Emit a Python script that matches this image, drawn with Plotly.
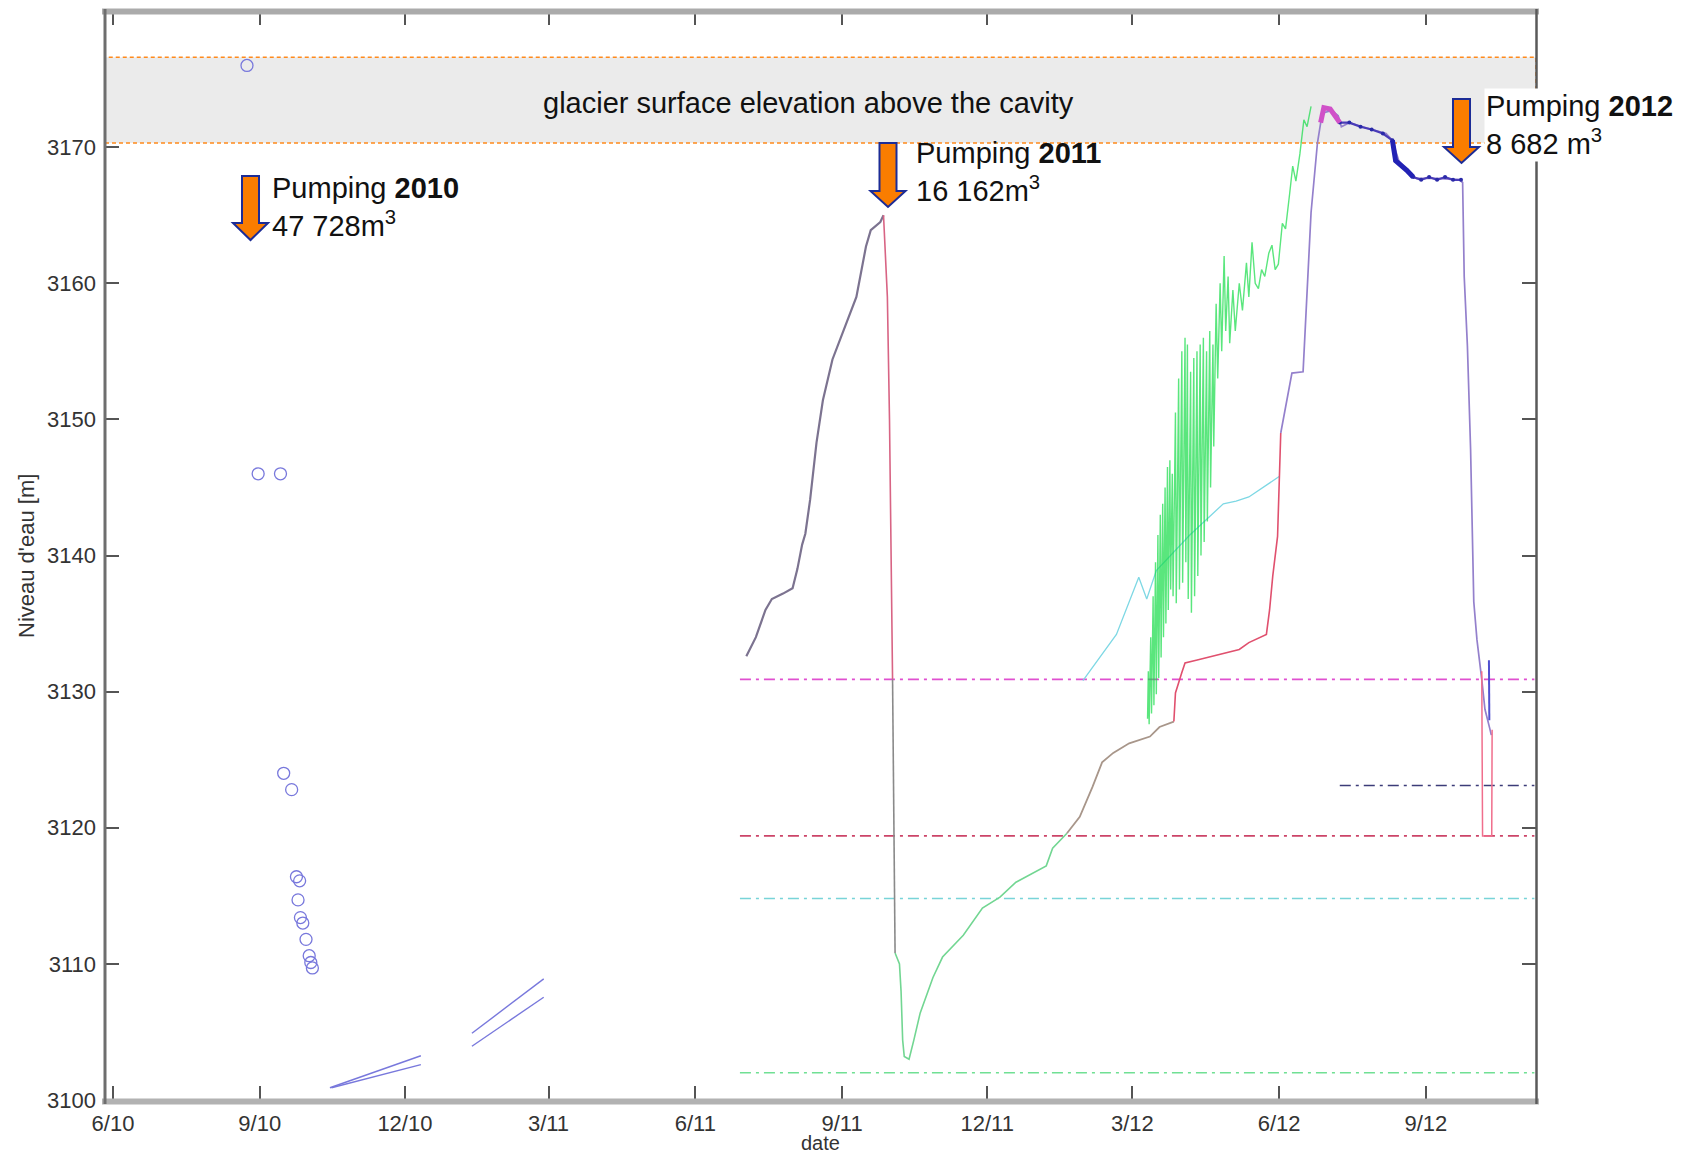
import plotly.graph_objects as go

# ---------------- data ----------------
# 2010 manual soundings (open circles)
sound_2010_dates = ["2010-08-24", "2010-08-31", "2010-09-14", "2010-09-16", "2010-09-21",
                    "2010-09-24", "2010-09-26", "2010-09-25", "2010-09-26 12:00", "2010-09-28",
                    "2010-09-30", "2010-10-02", "2010-10-03", "2010-10-04"]
sound_2010_levels = [3176.0, 3146.0, 3146.0, 3124.0, 3122.8,
                     3116.4, 3116.1, 3114.7, 3113.4, 3113.0,
                     3111.8, 3110.6, 3110.1, 3109.7]

# 2010-2011 probe records (short straight pieces)
probe_a_dates = ["2010-10-15", "2010-12-11"]
probe_a_levels = [3100.9, 3103.25]
probe_b_dates = ["2010-10-16", "2010-12-11"]
probe_b_levels = [3100.9, 3102.6]
probe_c_dates = ["2011-01-12", "2011-02-26"]
probe_c_levels = [3104.9, 3108.9]
probe_d_dates = ["2011-01-12", "2011-02-26"]
probe_d_levels = [3103.95, 3107.55]

# sensor reference levels (dash-dot)
ref_levels = [3130.9, 3119.4, 3114.8, 3102.0]
ref_colors = ["#e050d0", "#cc4468", "#78d4d8", "#70e094"]
ref_start = "2011-06-29"
ref_end = "2012-11-08"
navy_level = 3123.1
navy_start = "2012-07-09"

# 2011 filling
rise_2011_dates = ["2011-07-03", "2011-07-09", "2011-07-15", "2011-07-19", "2011-07-26",
                   "2011-08-01", "2011-08-04", "2011-08-07", "2011-08-09", "2011-08-12",
                   "2011-08-16", "2011-08-20", "2011-08-26", "2011-09-02", "2011-09-10",
                   "2011-09-16", "2011-09-19", "2011-09-25", "2011-09-27"]
rise_2011_levels = [3132.6, 3134.0, 3136.0, 3136.8, 3137.2,
                    3137.6, 3139.0, 3140.8, 3141.6, 3144.1,
                    3148.3, 3151.4, 3154.4, 3156.6, 3159.0,
                    3162.7, 3163.9, 3164.5, 3165.0]

# 2011 pumping drawdown
drop_2011_dates = ["2011-09-27", "2011-09-29 10:00", "2011-09-30 18:00", "2011-10-01 18:00", "2011-10-02 16:00"]
drop_2011_levels = [3165.0, 3159.0, 3150.0, 3140.4, 3130.9]
drop_low_dates = ["2011-10-02 16:00", "2011-10-04 06:00"]
drop_low_levels = [3130.9, 3110.8]

# refilling after 2011 pumping
refill_dates = ["2011-10-04 06:00", "2011-10-07", "2011-10-08", "2011-10-09", "2011-10-10",
                "2011-10-13", "2011-10-16", "2011-10-20", "2011-10-28", "2011-11-03",
                "2011-11-16", "2011-11-28", "2011-12-09", "2011-12-19", "2012-01-07",
                "2012-01-11", "2012-01-20"]
refill_levels = [3110.8, 3110.0, 3108.0, 3104.4, 3103.2,
                 3103.0, 3104.4, 3106.4, 3109.0, 3110.5,
                 3112.1, 3114.1, 3114.9, 3116.0, 3117.2,
                 3118.5, 3119.6]
winter_dates = ["2012-01-20", "2012-01-28", "2012-02-05", "2012-02-11", "2012-02-18",
                "2012-02-28", "2012-03-12", "2012-03-18", "2012-03-27"]
winter_levels = [3119.6, 3120.8, 3123.0, 3124.8, 3125.5,
                 3126.2, 3126.7, 3127.4, 3127.8]

# 2012 spring rise
spring_dates = ["2012-03-27", "2012-03-28", "2012-04-01", "2012-04-03", "2012-04-10",
                "2012-04-27", "2012-05-07", "2012-05-13", "2012-05-24", "2012-05-26",
                "2012-05-28", "2012-05-31", "2012-06-01", "2012-06-02"]
spring_levels = [3127.8, 3129.9, 3131.4, 3132.1, 3132.3,
                 3132.8, 3133.1, 3133.6, 3134.2, 3136.0,
                 3138.5, 3141.4, 3145.3, 3149.0]

# 2012 summer high stand and pumping drawdown
summer_dates = ["2012-06-02", "2012-06-09", "2012-06-16", "2012-06-18", "2012-06-21",
                "2012-06-25", "2012-06-28", "2012-07-04", "2012-07-08", "2012-07-10",
                "2012-07-15", "2012-07-26", "2012-08-07", "2012-08-11", "2012-08-15",
                "2012-08-20", "2012-08-26", "2012-09-08", "2012-09-22", "2012-09-24",
                "2012-09-25", "2012-09-27", "2012-09-29", "2012-10-01", "2012-10-03",
                "2012-10-06", "2012-10-08", "2012-10-11", "2012-10-12"]
summer_levels = [3149.0, 3153.4, 3153.5, 3157.8, 3165.2,
                 3170.3, 3172.5, 3172.7, 3172.3, 3171.5,
                 3171.8, 3171.4, 3171.0, 3170.5, 3169.0,
                 3168.3, 3167.7, 3167.7, 3167.6, 3167.4,
                 3160.5, 3155.4, 3147.8, 3136.6, 3133.8,
                 3130.9, 3128.7, 3127.3, 3126.8]
peak_dates = ["2012-06-27", "2012-06-29", "2012-07-03", "2012-07-07", "2012-07-09"]
peak_levels = [3171.8, 3172.9, 3172.8, 3172.2, 3171.8]
recess_dates = ["2012-07-09", "2012-07-15", "2012-07-22", "2012-07-29", "2012-08-05",
                "2012-08-11", "2012-08-13", "2012-08-20", "2012-08-24", "2012-08-29",
                "2012-09-03", "2012-09-08", "2012-09-13", "2012-09-18", "2012-09-23"]
recess_levels = [3171.8, 3171.8, 3171.5, 3171.3, 3171.0,
                 3170.5, 3169.0, 3168.3, 3167.8, 3167.6,
                 3167.8, 3167.6, 3167.8, 3167.6, 3167.6]
slump_dates = ["2012-08-11", "2012-08-13", "2012-08-20", "2012-08-24"]
slump_levels = [3170.5, 3169.0, 3168.3, 3167.8]
tail_red_dates = ["2012-10-06 00:00", "2012-10-06 12:00", "2012-10-12 06:00", "2012-10-12 12:00"]
tail_red_levels = [3131.5, 3119.4, 3119.4, 3127.2]
tail_blue_dates = ["2012-10-10 12:00", "2012-10-10 18:00"]
tail_blue_levels = [3132.3, 3127.9]

# second sensor, 2012
cyan_dates = ["2012-01-30", "2012-02-20", "2012-03-05", "2012-03-10", "2012-03-16",
              "2012-04-06", "2012-04-27", "2012-05-05", "2012-05-13", "2012-06-01"]
cyan_levels = [3130.8, 3134.2, 3138.4, 3136.8, 3138.9,
               3141.5, 3143.8, 3144.0, 3144.3, 3145.8]

# third sensor, 2012 (strongly oscillating record)
osc_dates = ["2012-03-10 12:00", "2012-03-11 00:00", "2012-03-11 12:00", "2012-03-12 12:00", "2012-03-13 00:00",
             "2012-03-14 00:00", "2012-03-14 12:00", "2012-03-15 12:00", "2012-03-16 00:00", "2012-03-17 00:00",
             "2012-03-17 12:00", "2012-03-18 12:00", "2012-03-19 00:00", "2012-03-20 00:00", "2012-03-20 12:00",
             "2012-03-21 12:00", "2012-03-22 00:00", "2012-03-23 00:00", "2012-03-23 12:00", "2012-03-24 12:00",
             "2012-03-25 00:00", "2012-03-26 00:00", "2012-03-26 12:00", "2012-03-28 00:00", "2012-03-28 12:00",
             "2012-03-30 00:00", "2012-03-30 12:00", "2012-04-01 00:00", "2012-04-01 12:00", "2012-04-03 00:00",
             "2012-04-03 12:00", "2012-04-04 12:00", "2012-04-05 00:00", "2012-04-06 12:00", "2012-04-07 00:00",
             "2012-04-08 12:00", "2012-04-09 00:00", "2012-04-10 12:00", "2012-04-11 00:00", "2012-04-12 12:00",
             "2012-04-13 00:00", "2012-04-14 12:00", "2012-04-15 00:00", "2012-04-16 12:00", "2012-04-17 00:00",
             "2012-04-18 12:00", "2012-04-19 00:00", "2012-04-20 12:00", "2012-04-21 00:00", "2012-04-22 12:00",
             "2012-04-23 12:00", "2012-04-25 00:00", "2012-04-26 00:00", "2012-04-27 12:00", "2012-04-28 12:00",
             "2012-04-30 00:00", "2012-05-01 00:00", "2012-05-03 00:00", "2012-05-04 12:00", "2012-05-07 00:00",
             "2012-05-09 00:00", "2012-05-11 12:00", "2012-05-13 00:00", "2012-05-15 00:00", "2012-05-17 00:00",
             "2012-05-19 00:00", "2012-05-21 00:00", "2012-05-23 00:00", "2012-05-25 12:00", "2012-05-27 12:00",
             "2012-05-29 12:00", "2012-05-31 12:00", "2012-06-03 00:00", "2012-06-05 00:00", "2012-06-07 12:00",
             "2012-06-09 12:00", "2012-06-11 12:00", "2012-06-14 00:00", "2012-06-16 12:00", "2012-06-18 12:00",
             "2012-06-21 00:00"]
osc_levels = [3128.0, 3131.5, 3127.6, 3134.0, 3128.4,
              3137.0, 3129.0, 3139.5, 3129.8, 3141.5,
              3131.0, 3143.0, 3132.5, 3143.8, 3134.0,
              3145.0, 3135.0, 3146.5, 3136.0, 3147.0,
              3137.5, 3146.0, 3137.0, 3150.5, 3136.5,
              3153.0, 3137.5, 3155.0, 3138.0, 3156.0,
              3139.5, 3155.5, 3136.8, 3153.5, 3135.8,
              3154.5, 3137.0, 3155.0, 3138.5, 3155.5,
              3140.0, 3156.0, 3141.0, 3155.0, 3142.5,
              3156.5, 3145.0, 3155.5, 3148.0, 3158.5,
              3153.0, 3160.0, 3155.0, 3162.0, 3156.5,
              3160.5, 3155.6, 3159.5, 3156.5, 3160.0,
              3158.0, 3161.5, 3159.0, 3163.0, 3160.0,
              3159.6, 3161.0, 3160.5, 3162.2, 3162.8,
              3161.0, 3161.4, 3164.4, 3164.0, 3166.5,
              3168.6, 3167.5, 3169.5, 3172.0, 3171.5,
              3173.0]

# glacier surface band and axes
glacier_bottom, glacier_top = 3170.3, 3176.6
x_range = ["2010-05-27", "2012-11-09"]
y_range = [3100, 3180]
x_tick_dates = ["2010-06-01", "2010-09-01", "2010-12-01", "2011-03-01", "2011-06-01",
                "2011-09-01", "2011-12-01", "2012-03-01", "2012-06-01", "2012-09-01"]
x_tick_text = ["6/10", "9/10", "12/10", "3/11", "6/11", "9/11", "12/11", "3/12", "6/12", "9/12"]
y_tick_vals = [3100, 3110, 3120, 3130, 3140, 3150, 3160, 3170]

# ---------------- figure ----------------
W, H = 1686, 1157
PL, PR, PT, PB = 105, 1536, 11, 1100


def px_x(px):
    return (px - PL) / (PR - PL)


def px_y(py):
    return (PB - py) / (PB - PT)


fig = go.Figure()


def line(x, y, color, width=1.5, dash=None, mode="lines", marker=None):
    fig.add_trace(go.Scatter(x=x, y=y, mode=mode, hoverinfo="skip",
                             line=dict(color=color, width=width, dash=dash),
                             marker=marker or {}))


# reference levels
DASHDOT = "11px,5px,3px,5px"
for lev, col in zip(ref_levels, ref_colors):
    line([ref_start, ref_end], [lev, lev], col, 1.6, DASHDOT)
line([navy_start, ref_end], [navy_level, navy_level], "#3c3c78", 1.6, DASHDOT)

# 2010 records
fig.add_trace(go.Scatter(x=sound_2010_dates, y=sound_2010_levels, mode="markers", hoverinfo="skip",
                         marker=dict(symbol="circle-open", size=12, color="#7878dc",
                                     line=dict(width=1.3, color="#7878dc"))))
for xs, ys in [(probe_a_dates, probe_a_levels), (probe_b_dates, probe_b_levels),
               (probe_c_dates, probe_c_levels), (probe_d_dates, probe_d_levels)]:
    line(xs, ys, "#7878dc", 1.4)

# 2011 cycle
line(rise_2011_dates, rise_2011_levels, "#7c7390", 2.2)
line(drop_2011_dates, drop_2011_levels, "#d86484", 1.6)
line(drop_low_dates, drop_low_levels, "#8a8a8a", 1.6)
line(refill_dates, refill_levels, "#72d692", 1.6)
line(winter_dates, winter_levels, "#a8968a", 1.8)

# 2012 records
line(cyan_dates, cyan_levels, "#7ed8e4", 1.3)
line(osc_dates, osc_levels, "rgba(20,220,70,0.7)", 1.4)
line(spring_dates, spring_levels, "#e0506e", 1.6)
line(summer_dates, summer_levels, "#9480cc", 1.7)
line(recess_dates, recess_levels, "#4a3cb8", 2.2, mode="lines+markers",
     marker=dict(size=4, color="#2a2aa8"))
line(slump_dates, slump_levels, "#2222b4", 5)
line(peak_dates, peak_levels, "#d050c8", 5)
line(tail_red_dates, tail_red_levels, "#f06e8c", 1.5)
line(tail_blue_dates, tail_blue_levels, "#5050d0", 2)

# ---------------- decorations ----------------
shapes = [
    dict(type="rect", xref="paper", yref="y", x0=0, x1=1, y0=glacier_bottom, y1=glacier_top,
         fillcolor="#ebebeb", line=dict(color="#ff8a1c", width=1.6, dash="4px,3px"), layer="below"),
    # frame
    dict(type="line", xref="paper", yref="paper", x0=px_x(102), x1=px_x(1539), y0=px_y(11.5), y1=px_y(11.5),
         line=dict(color="#ababab", width=6), layer="above"),
    dict(type="line", xref="paper", yref="paper", x0=px_x(102), x1=px_x(1539), y0=px_y(1101.5), y1=px_y(1101.5),
         line=dict(color="#b2b2b2", width=6), layer="above"),
    dict(type="line", xref="paper", yref="paper", x0=px_x(105), x1=px_x(105), y0=px_y(9), y1=px_y(1104),
         line=dict(color="#6e6e6e", width=3), layer="above"),
    dict(type="line", xref="paper", yref="paper", x0=px_x(1536.5), x1=px_x(1536.5), y0=px_y(9), y1=px_y(1104),
         line=dict(color="#5a5a5a", width=2.5), layer="above"),
]


def arrow(cx, top, head_top, tip, shaft_half=8.5, head_half=17.5):
    pts = [(cx - shaft_half, top), (cx + shaft_half, top), (cx + shaft_half, head_top),
           (cx + head_half, head_top), (cx, tip), (cx - head_half, head_top),
           (cx - shaft_half, head_top)]
    path = "M " + " L ".join(f"{px_x(a):.5f},{px_y(b):.5f}" for a, b in pts) + " Z"
    return dict(type="path", xref="paper", yref="paper", path=path, fillcolor="#fa7d00",
                line=dict(color="#1c2c96", width=2), layer="above")


shapes += [arrow(250.5, 176, 223, 240), arrow(888, 143, 191, 207), arrow(1461.5, 99, 147, 163)]

TXT = "Liberation Sans, Arial, sans-serif"
TICKF = "Liberation Sans, Arial, sans-serif"
annotations = [
    dict(text="glacier surface elevation above the cavity", xref="paper", yref="paper",
         x=px_x(808), y=px_y(103), xanchor="center", yanchor="middle", showarrow=False,
         font=dict(family=TXT, size=29, color="#111")),
    dict(text="Pumping <b>2010</b><br>47 728m<sup>3</sup>", xref="paper", yref="paper",
         x=px_x(270), y=px_y(207), xanchor="left", yanchor="middle", align="left", showarrow=False,
         font=dict(family=TXT, size=29, color="#111")),
    dict(text="Pumping <b>2011</b><br>16 162m<sup>3</sup>", xref="paper", yref="paper",
         x=px_x(914), y=px_y(172), xanchor="left", yanchor="middle", align="left", showarrow=False,
         font=dict(family=TXT, size=29, color="#111")),
    dict(text="Pumping <b>2012</b><br>8 682 m<sup>3</sup>", xref="paper", yref="paper",
         x=px_x(1484), y=px_y(125), xanchor="left", yanchor="middle", align="left", showarrow=False,
         bgcolor="white", font=dict(family=TXT, size=29, color="#111")),
    dict(text="Niveau d'eau [m]", xref="paper", yref="paper", x=px_x(26), y=px_y(556),
         xanchor="center", yanchor="middle", textangle=-90, showarrow=False,
         font=dict(family=TICKF, size=22, color="#333")),
    dict(text="date", xref="paper", yref="paper", x=px_x(820), y=px_y(1143),
         xanchor="center", yanchor="middle", showarrow=False, borderpad=0,
         font=dict(family=TICKF, size=20, color="#333")),
]

axis_common = dict(showgrid=False, zeroline=False, showline=False, ticks="inside", ticklen=14,
                   tickwidth=2, tickcolor="#555555", mirror="ticks", ticklabelstandoff=8,
                   tickfont=dict(family=TICKF, size=22, color="#333"))

fig.update_layout(
    width=W, height=H, margin=dict(l=PL, r=W - PR, t=PT, b=H - PB, pad=0),
    plot_bgcolor="white", paper_bgcolor="white", showlegend=False,
    shapes=shapes, annotations=annotations,
    xaxis=dict(type="date", range=x_range, tickvals=x_tick_dates, ticktext=x_tick_text, **axis_common),
    yaxis=dict(range=y_range, tickvals=y_tick_vals, **axis_common),
)

fig.write_html("out.html")
